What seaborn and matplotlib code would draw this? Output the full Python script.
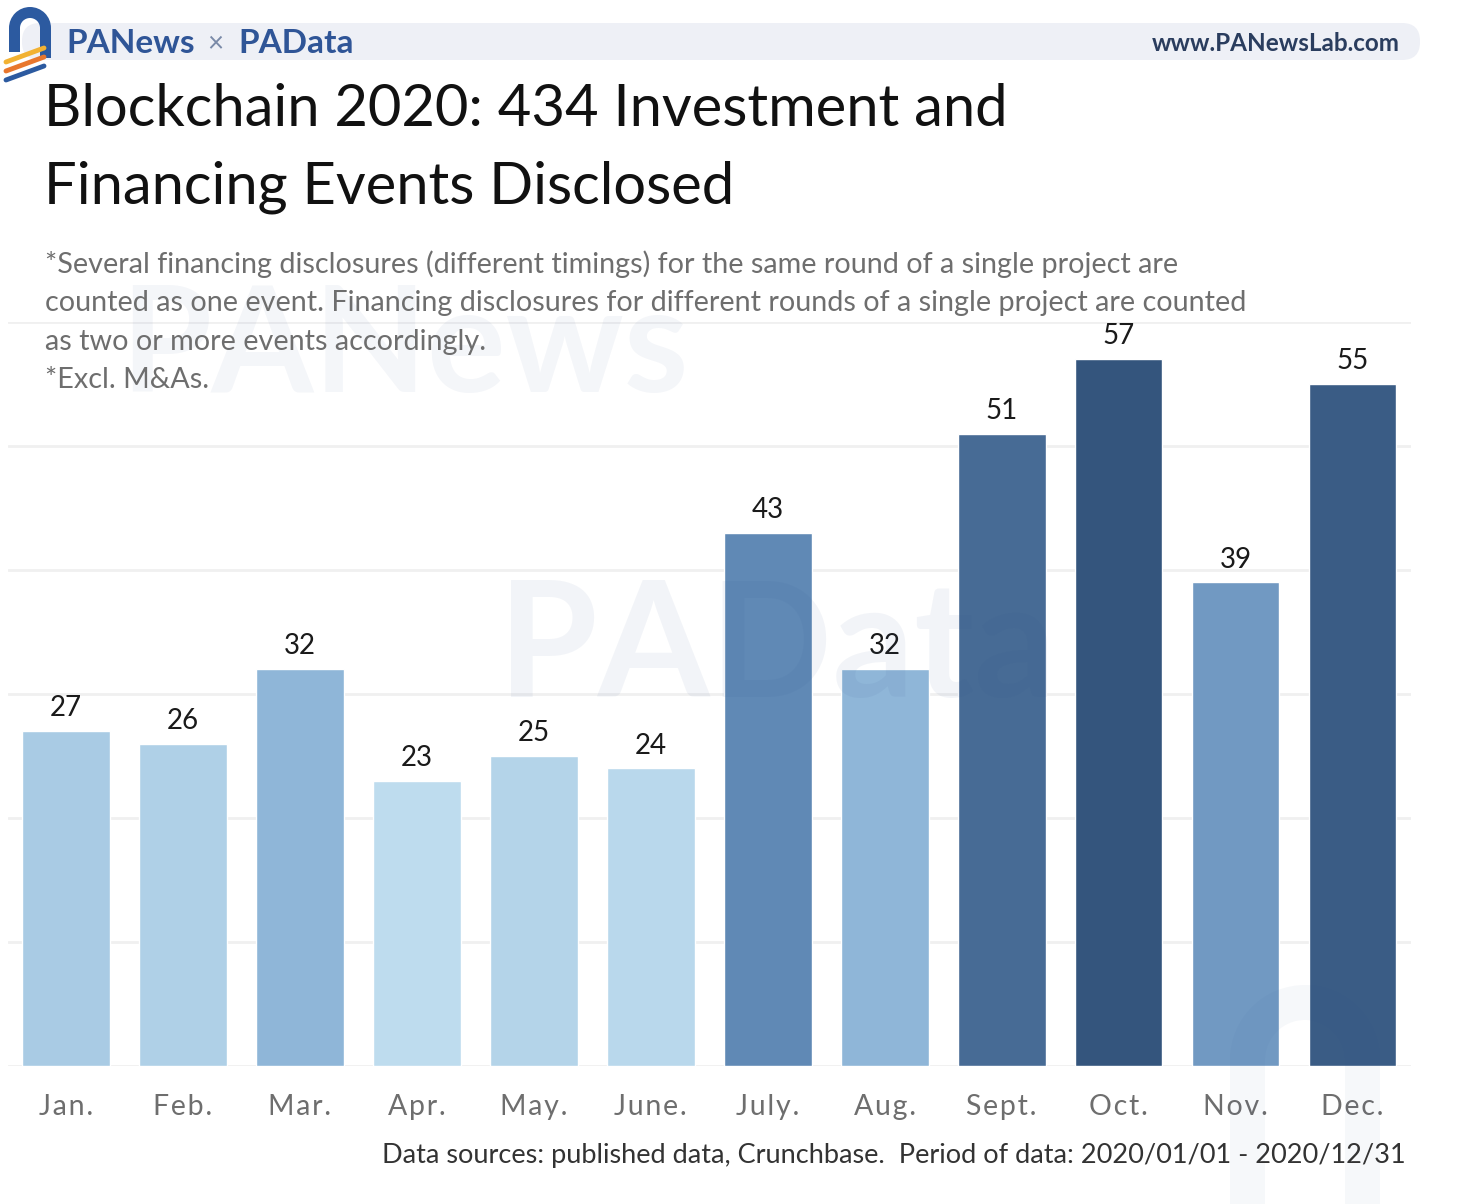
import matplotlib
matplotlib.use("Agg")
import matplotlib.pyplot as plt
import seaborn as sns
from matplotlib.colors import LinearSegmentedColormap, Normalize
from matplotlib.patches import FancyBboxPatch, Wedge, Rectangle

MONTHS = ["Jan.", "Feb.", "Mar.", "Apr.", "May.", "June.",
          "July.", "Aug.", "Sept.", "Oct.", "Nov.", "Dec."]
EVENTS = [27, 26, 32, 23, 25, 24, 43, 32, 51, 57, 39, 55]

TITLE_LINES = ["Blockchain 2020: 434 Investment and",
               "Financing Events Disclosed"]
NOTE_LINES = [
    "*Several financing disclosures (different timings) for the same round of a single project are",
    "counted as one event. Financing disclosures for different rounds of a single project are counted",
    "as two or more events accordingly.",
    "*Excl. M&As.",
]
SOURCE = "Data sources: published data, Crunchbase.  Period of data: 2020/01/01 - 2020/12/31"

W, H = 1458, 1204

sns.set_theme(style="white")
plt.rcParams["font.family"] = ["Lato", "DejaVu Sans"]

# colour shade follows the value, light -> dark blue
blues = LinearSegmentedColormap.from_list(
    "pa_blues",
    [(0.0, "#bedcee"), (0.265, "#8fb6d8"), (0.588, "#6089b5"), (1.0, "#34557d")],
)
norm = Normalize(vmin=min(EVENTS), vmax=max(EVENTS))
palette = {m: blues(norm(v)) for m, v in zip(MONTHS, EVENTS)}

fig = plt.figure(figsize=(W / 100, H / 100), dpi=100)
fig.patch.set_facecolor("white")

ax = fig.add_axes([7.5 / W, 1 - 1066 / H, (1411 - 7.5) / W, (1066 - 322) / H])
sns.barplot(x=MONTHS, y=EVENTS, hue=MONTHS, palette=palette, legend=False,
            width=0.75, saturation=1, ax=ax)
for cont in ax.containers:
    ax.bar_label(cont, padding=7, fontsize=20, color="#1a1a1a")

ax.set_xlim(-0.5, len(MONTHS) - 0.5)
ax.set_ylim(0, 60)
ax.set_yticks(range(0, 61, 10))
ax.set_yticklabels([])
ax.yaxis.grid(True, color="#f0f0f0", linewidth=2)
ax.set_axisbelow(True)
# letter-spaced month labels
ax.set_xticks(range(len(MONTHS)))
ax.set_xticklabels(["\u200a".join(m) for m in MONTHS])
ax.tick_params(axis="x", length=0, pad=20, labelsize=20.5, labelcolor="#6e6e6e")
ax.tick_params(axis="y", length=0)
for s in ax.spines.values():
    s.set_visible(False)
ax.set_xlabel("")
ax.set_ylabel("")

# overlay in pixel coordinates for header, titles and watermarks
ov = fig.add_axes([0, 0, 1, 1])
ov.set_xlim(0, W)
ov.set_ylim(H, 0)
ov.axis("off")
ov.patch.set_alpha(0)

ov.add_patch(FancyBboxPatch((22, 23), 1398, 37,
                            boxstyle="round,pad=0,rounding_size=18",
                            fc="#eef0f6", ec="none"))
# logo: arch + stripes
ov.add_patch(Wedge((30, 28), 21, 180, 360, width=11, fc="#2c5aa0", ec="none"))
ov.add_patch(Rectangle((9, 28), 11, 24, fc="#2c5aa0", ec="none"))
ov.add_patch(Rectangle((40, 28), 11, 30, fc="#2c5aa0", ec="none"))
for dy, c in [(0, "#f2b233"), (9, "#e8772e"), (18, "#2c5aa0")]:
    ov.plot([6, 44], [62 + dy, 48 + dy], color=c, lw=3.5, solid_capstyle="round")

ov.text(66, 53, "PANews", fontsize=24, fontweight="bold", color="#2f5597")
ov.text(207, 52, "\u00d7", fontsize=20, color="#7a8aa8")
ov.text(238, 53, "PAData", fontsize=24, fontweight="bold", color="#2f5597")
ov.text(1400, 51, "www.PANewsLab.com", fontsize=17.5, fontweight="bold",
        color="#2a3d5e", ha="right")

# watermarks
ov.text(120, 392, "PANews", fontsize=106, fontweight="bold", color="#2c4f8f", alpha=0.05)
ov.text(498, 697, "PAData", fontsize=116, fontweight="bold", color="#2c4f8f", alpha=0.06)
ov.add_patch(Wedge((1305, 1060), 75, 180, 360, width=35, fc="#2c4f8f", ec="none", alpha=0.04))
ov.add_patch(Rectangle((1230, 1060), 35, 144, fc="#2c4f8f", ec="none", alpha=0.04))
ov.add_patch(Rectangle((1345, 1060), 35, 144, fc="#2c4f8f", ec="none", alpha=0.04))

for i, line in enumerate(TITLE_LINES):
    ov.text(44, 126 + i * 77, line, fontsize=41.7, color="#111111")

for i, line in enumerate(NOTE_LINES):
    ov.text(45, 273 + i * 38.5, line, fontsize=20.7, color="#6e6e6e")

ov.text(1406, 1163, SOURCE, fontsize=19.5, color="#333333", ha="right")

fig.savefig("out.png", dpi=100, facecolor="white")
